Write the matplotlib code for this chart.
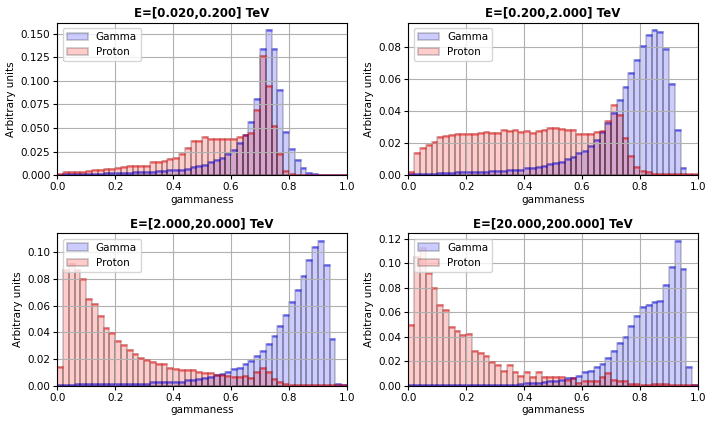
import numpy as np
import matplotlib
matplotlib.use('Agg')
import matplotlib.pyplot as plt

# energy bins (titles)
titles = ['E=[0.020,0.200] TeV', 'E=[0.200,2.000] TeV',
          'E=[2.000,20.000] TeV', 'E=[20.000,200.000] TeV']

# gammaness histograms, 50 bins of 0.02 between 0 and 1
gamma_1 = [0.0005, 0.001, 0.001, 0.001, 0.001, 0.0012, 0.0015, 0.0015, 0.0018, 0.002,
           0.0022, 0.0025, 0.0025, 0.003, 0.003, 0.0035, 0.0035, 0.004, 0.0045, 0.005,
           0.005, 0.005, 0.0064, 0.0085, 0.010, 0.011, 0.014, 0.016, 0.018, 0.022,
           0.027, 0.034, 0.043, 0.056, 0.081, 0.134, 0.154, 0.134, 0.090, 0.046,
           0.028, 0.016, 0.008, 0.0025, 0.001, 0.0005, 0.0003, 0.0003, 0.0002, 0.0002]
proton_1 = [0.0014, 0.0035, 0.0035, 0.0035, 0.0035, 0.0046, 0.0057, 0.0057, 0.006, 0.0067,
            0.007, 0.0085, 0.0096, 0.010, 0.010, 0.010, 0.0135, 0.0135, 0.0145, 0.0167,
            0.0177, 0.022, 0.029, 0.0365, 0.0365, 0.040, 0.038, 0.038, 0.038, 0.038,
            0.038, 0.040, 0.043, 0.045, 0.069, 0.126, 0.095, 0.052, 0.022, 0.0046,
            0.001, 0.0005, 0.0005, 0.0005, 0.0005, 0.0005, 0.0005, 0.0005, 0.0005, 0.0005]

gamma_2 = [0.0004, 0.0004, 0.0004, 0.0004, 0.0004, 0.001, 0.001, 0.001, 0.0017, 0.0017,
           0.0017, 0.0017, 0.0017, 0.0017, 0.0023, 0.0023, 0.0023, 0.003, 0.003, 0.003,
           0.0042, 0.0046, 0.005, 0.0059, 0.0067, 0.0073, 0.0084, 0.0099, 0.0115, 0.0136,
           0.0153, 0.0185, 0.022, 0.027, 0.0325, 0.039, 0.047, 0.055, 0.064, 0.072,
           0.081, 0.088, 0.091, 0.0896, 0.079, 0.057, 0.028, 0.0046, 0.0003, 0.0002]
proton_2 = [0.0021, 0.0136, 0.0172, 0.019, 0.021, 0.0237, 0.0246, 0.025, 0.0256, 0.026,
            0.026, 0.026, 0.0264, 0.027, 0.0267, 0.0267, 0.028, 0.0275, 0.028, 0.027,
            0.0277, 0.0267, 0.0275, 0.0285, 0.0298, 0.0298, 0.029, 0.028, 0.028, 0.026,
            0.0256, 0.026, 0.027, 0.0277, 0.0336, 0.0437, 0.0376, 0.0235, 0.012, 0.0052,
            0.0027, 0.0019, 0.0006, 0.0005, 0.0005, 0.0005, 0.0005, 0.0005, 0.0005, 0.0005]

gamma_3 = [0.0005, 0.0005, 0.0005, 0.0015, 0.0015, 0.0015, 0.0015, 0.0015, 0.0015, 0.0015,
           0.0015, 0.0015, 0.0015, 0.0015, 0.0015, 0.0015, 0.0025, 0.0025, 0.0025, 0.003,
           0.003, 0.003, 0.004, 0.0042, 0.005, 0.006, 0.0067, 0.0082, 0.009, 0.0104,
           0.0124, 0.0134, 0.0166, 0.0186, 0.0221, 0.026, 0.0313, 0.037, 0.0447, 0.0527,
           0.0627, 0.0714, 0.082, 0.0945, 0.1037, 0.1087, 0.0905, 0.035, 0.0012, 0.0003]
proton_3 = [0.0139, 0.087, 0.091, 0.087, 0.080, 0.0648, 0.061, 0.0524, 0.0435, 0.0393,
            0.0335, 0.0306, 0.0268, 0.0239, 0.0209, 0.0194, 0.0176, 0.0159, 0.0159, 0.0134,
            0.0124, 0.0119, 0.0117, 0.0119, 0.0104, 0.0097, 0.0092, 0.0082, 0.008, 0.0072,
            0.0067, 0.0067, 0.0072, 0.006, 0.0099, 0.0134, 0.0099, 0.005, 0.003, 0.0015,
            0.0007, 0.0007, 0.0006, 0.0005, 0.0005, 0.0003, 0.0003, 0.0003, 0.0003, 0.0003]

gamma_4 = [0.0003, 0.0003, 0.0008, 0.0008, 0.0008, 0.0008, 0.0008, 0.0008, 0.0008, 0.0008,
           0.0008, 0.0008, 0.0008, 0.0008, 0.0008, 0.0008, 0.0008, 0.0008, 0.0008, 0.0016,
           0.0019, 0.0019, 0.0019, 0.0027, 0.004, 0.004, 0.005, 0.0065, 0.0065, 0.0081,
           0.011, 0.0124, 0.0149, 0.018, 0.0227, 0.0286, 0.035, 0.0397, 0.049, 0.057,
           0.064, 0.066, 0.068, 0.069, 0.082, 0.097, 0.1184, 0.0951, 0.0154, 0.0005]
proton_4 = [0.0497, 0.105, 0.112, 0.0916, 0.080, 0.066, 0.062, 0.048, 0.045, 0.041,
            0.042, 0.028, 0.0268, 0.0243, 0.019, 0.0173, 0.0116, 0.0173, 0.0108, 0.0081,
            0.0108, 0.0073, 0.0108, 0.0073, 0.0073, 0.0073, 0.0073, 0.0046, 0.006, 0.002,
            0.004, 0.004, 0.004, 0.0073, 0.0105, 0.0046, 0.004, 0.004, 0.0013, 0.0013,
            0.0008, 0.0005, 0.001, 0.001, 0.001, 0.0003, 0.0003, 0.0003, 0.0003, 0.0003]

gammas = [gamma_1, gamma_2, gamma_3, gamma_4]
protons = [proton_1, proton_2, proton_3, proton_4]

bins = np.linspace(0, 1, 51)
centers = 0.5 * (bins[:-1] + bins[1:])

fig, axes = plt.subplots(2, 2, figsize=(7.12, 4.24), dpi=100)
plt.subplots_adjust(left=0.0805, right=0.9803, bottom=0.0903, top=0.9465,
                    wspace=0.212, hspace=0.382)

for ax, title, g, p in zip(axes.flat, titles, gammas, protons):
    # ****** filled bars *******
    ax.hist(centers, bins=bins, weights=g, color='blue', alpha=0.2,
            edgecolor='black', linewidth=1.3, label='Gamma')
    ax.hist(centers, bins=bins, weights=p, color='red', alpha=0.2,
            edgecolor='black', linewidth=1.3, label='Proton')
    # ****** bin tops *******
    ax.hlines(g, bins[:-1], bins[1:], colors='blue', alpha=0.45, linewidth=1.8)
    ax.hlines(p, bins[:-1], bins[1:], colors='red', alpha=0.45, linewidth=1.8)

    ax.set_xlim(0, 1)
    ax.set_title(title, fontsize=8.5, fontweight='bold', pad=4)
    ax.set_xlabel('gammaness', fontsize=7.5, labelpad=2)
    ax.set_ylabel('Arbitrary units', fontsize=7.5, labelpad=3)
    ax.tick_params(labelsize=7.5, length=3, pad=2)
    ax.grid(True)
    ax.legend(loc='upper left', fontsize=7.5)

plt.savefig('out.png', dpi=100)
